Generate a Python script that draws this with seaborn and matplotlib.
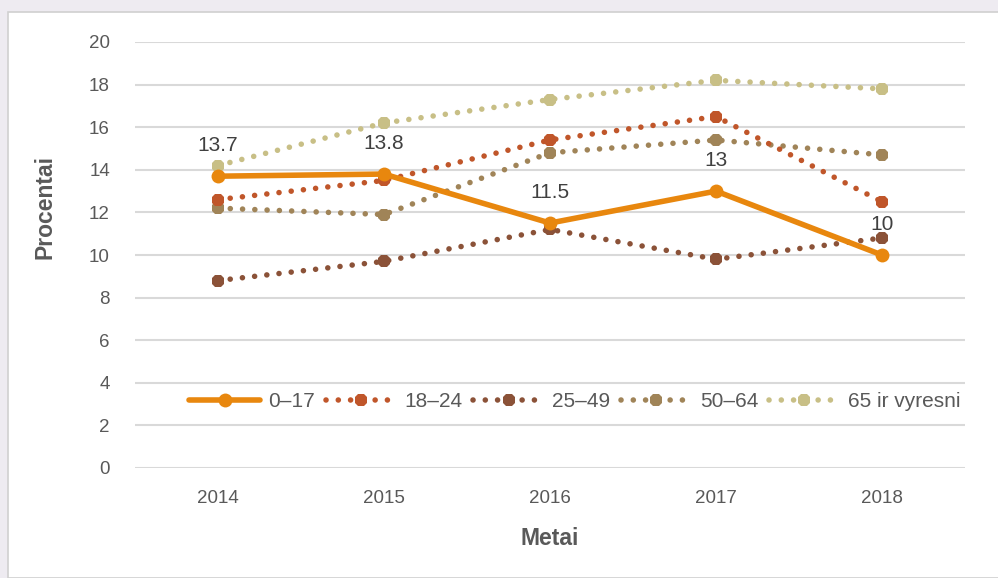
#!/usr/bin/env python3
import matplotlib

matplotlib.use("Agg")
import matplotlib.pyplot as plt
import pandas as pd
import seaborn as sns
from matplotlib.patches import Rectangle

years = ["2014", "2015", "2016", "2017", "2018"]
age_groups = ["0–17", "18–24", "25–49", "50–64", "65 ir vyresni"]

vals_0_17 = [13.7, 13.8, 11.5, 13.0, 10.0]
vals_18_24 = [12.6, 13.5, 15.4, 16.5, 12.5]
vals_25_49 = [8.8, 9.7, 11.2, 9.8, 10.8]
vals_50_64 = [12.2, 11.9, 14.8, 15.4, 14.7]
vals_65 = [14.2, 16.2, 17.3, 18.2, 17.8]

labels_0_17 = ["13.7", "13.8", "11.5", "13", "10"]

colors = ["#E8870E", "#C0562A", "#8B5238", "#A08458", "#C8BF86"]

DOTS = (0, (0.01, 2.2))


def build_frame():
    series = [vals_0_17, vals_18_24, vals_25_49, vals_50_64, vals_65]
    rows = []
    for group, values in zip(age_groups, series):
        for year, value in zip(years, values):
            rows.append({"Metai": year, "Grupe": group, "Procentai": value})
    return pd.DataFrame(rows)


def style_line(line, idx):
    if idx == 0:
        line.set_linewidth(4)
    else:
        line.set_linewidth(4)
        line.set_linestyle(DOTS)
        line.set_dash_capstyle("round")


def main():
    sns.set_theme(style="white")
    plt.rcParams["font.family"] = ["Liberation Sans", "DejaVu Sans"]
    text_color = "#595959"

    df = build_frame()

    fig = plt.figure(figsize=(9.98, 5.78), dpi=100)
    fig.patch.set_facecolor("#EEEBF1")
    fig.add_artist(Rectangle((8 / 998, 0), 1, 1 - 12 / 578, transform=fig.transFigure,
                             facecolor="white", edgecolor="#D0D0D0", linewidth=1.2, zorder=0))

    ax = fig.add_axes([135 / 998, 1 - 468 / 578, 830 / 998, 426 / 578])
    ax.set_facecolor("none")

    for i, (group, color) in enumerate(zip(age_groups, colors)):
        sub = df[df["Grupe"] == group]
        sns.lineplot(data=sub, x="Metai", y="Procentai", ax=ax, color=color,
                     marker="o" if i == 0 else "8", markersize=10, markeredgewidth=0,
                     label=group, sort=False)

    # excel-style round dots for every series except 0-17
    for i, line in enumerate(ax.lines):
        style_line(line, i)
        line.set_zorder(10 if i == 0 else 5 - i * 0.1)

    for x, (value, text) in enumerate(zip(vals_0_17, labels_0_17)):
        ax.annotate(text, (x, value), xytext=(0, 22), textcoords="offset points",
                    ha="center", va="center", fontsize=15, color="#404040", zorder=12)

    ax.set_xlim(-0.5, 4.5)
    ax.set_ylim(0, 20)
    ax.set_yticks(range(0, 21, 2))
    ax.grid(axis="y", color="#D9D9D9", linewidth=1.5)
    ax.set_axisbelow(True)
    for spine in ax.spines.values():
        spine.set_visible(False)
    ax.tick_params(axis="both", length=0, labelsize=13.5, labelcolor=text_color)
    ax.tick_params(axis="x", pad=16)
    ax.tick_params(axis="y", pad=18)

    ax.set_xlabel("Metai", fontsize=16.5, fontweight="bold", color=text_color, labelpad=14)
    ax.set_ylabel("Procentai", fontsize=16.5, fontweight="bold", color=text_color)
    ax.yaxis.set_label_coords(-0.095, 0.613)

    leg = ax.legend(loc="center", bbox_to_anchor=(0.53, 0.155), ncol=5, frameon=False,
                    handlelength=3.4, handletextpad=0.4, columnspacing=0.5, fontsize=15,
                    labelcolor=text_color)
    for i, handle in enumerate(leg.legend_handles):
        style_line(handle, i)

    plt.savefig("out.png", dpi=100)
    plt.close(fig)


if __name__ == "__main__":
    main()
